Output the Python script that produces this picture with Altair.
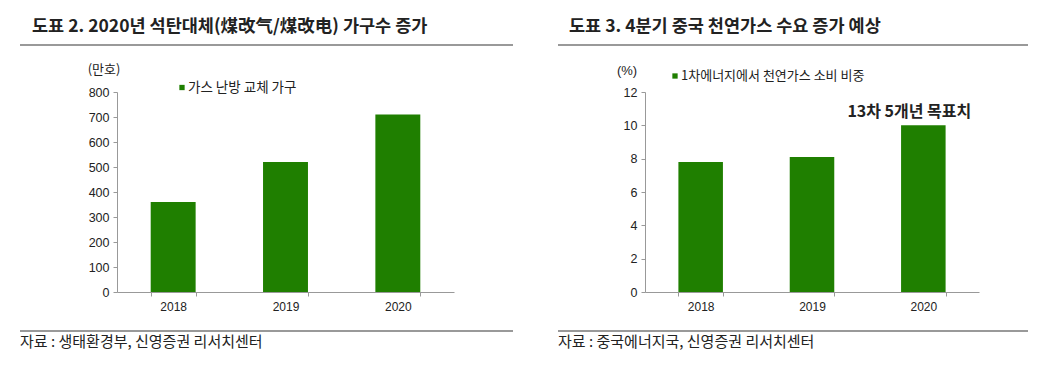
import altair as alt
import pandas as pd

years = ["2018", "2019", "2020"]
households = [360, 520, 710]
gas_share = [7.8, 8.1, 10.0]

left_title = "도표 2. 2020년 석탄대체(煤改气/煤改电) 가구수 증가"
right_title = "도표 3. 4분기 중국 천연가스 수요 증가 예상"
left_source = "자료 : 생태환경부, 신영증권 리서치센터"
right_source = "자료 : 중국에너지국, 신영증권 리서치센터"
left_unit = "(만호)"
right_unit = "(%)"
left_legend = "가스 난방 교체 가구"
right_legend = "1차에너지에서 천연가스 소비 비중"
annotation = ["13차 5개년 목표치"]
annotation_year = ["2020"]
annotation_value = [10]

GREEN = "#1F7F00"
KR = "Noto Sans CJK KR"
LAT = "Liberation Sans"
TXT = "#222222"
GRAY = "#999999"
H = 200


def txt(s, x, y, size, bold=False, font=KR, align="left"):
    return alt.Chart(pd.DataFrame({"t": [s]})).mark_text(
        align=align, baseline="middle", fontSize=size, font=font,
        fontWeight="bold" if bold else "normal", color=TXT
    ).encode(x=alt.value(x), y=alt.value(y), text="t:N")


def hrule(x1, x2, y, w=2):
    return alt.Chart(pd.DataFrame({"t": [0]})).mark_rule(
        color=GRAY, strokeWidth=w
    ).encode(x=alt.value(x1), x2=alt.value(x2), y=alt.value(y))


def panel(values, ymax, ystep, width, unit, unit_x, unit_y, unit_font,
          legend, legend_x, legend_y, title, title_x, source, rule_x1, rule_x2,
          annot=False, legend_size=13):
    df = pd.DataFrame({"year": years, "value": values})
    x = alt.X("year:N", title=None, sort=years,
              scale=alt.Scale(paddingInner=0.6, paddingOuter=0.3),
              axis=alt.Axis(labelAngle=0, tickBand="extent", domainColor=GRAY,
                            tickColor=GRAY, tickSize=4, labelPadding=5,
                            labelFont=LAT, labelFontSize=12, labelColor=TXT))
    y = alt.Y("value:Q", title=None,
              scale=alt.Scale(domain=[0, ymax], nice=False),
              axis=alt.Axis(values=list(range(0, ymax + 1, ystep)), grid=False,
                            labelOverlap=False,
                            domainColor=GRAY, tickColor=GRAY, tickSize=4,
                            labelPadding=4, labelFont=LAT, labelFontSize=12.5,
                            labelColor=TXT))
    bars = alt.Chart(df).mark_bar(color=GREEN).encode(x=x, y=y)
    layers = [bars]
    if annot:
        adf = pd.DataFrame({"year": annotation_year, "value": annotation_value,
                            "t": annotation})
        layers.append(alt.Chart(adf).mark_text(
            fontSize=16, font=KR, fontWeight="bold", color=TXT, dx=-14, dy=-13,
            baseline="middle", align="center"
        ).encode(x=x, y=y, text="t:N"))
    sq = alt.Chart(pd.DataFrame({"t": [0]})).mark_square(
        color=GREEN, size=28, opacity=1
    ).encode(x=alt.value(legend_x), y=alt.value(legend_y))
    layers += [
        hrule(rule_x1, rule_x2, -47),
        txt(title, title_x, -65, 17.5, bold=True),
        txt(unit, unit_x, unit_y, 13, font=unit_font, align="center"),
        sq,
        txt(legend, legend_x + 6, legend_y, legend_size),
        hrule(rule_x1, rule_x2, 239),
        txt(source, rule_x1, 250, 15),
    ]
    return alt.layer(*layers).properties(width=width, height=H)


left = panel(households, 800, 100, 337, left_unit, -13, -22, KR,
             left_legend, 65, -4.5, left_title, -85, left_source, -97, 396,
             legend_size=13.5)
right = panel(gas_share, 12, 2, 334, right_unit, -18, -21.5, LAT,
              right_legend, 30, -16, right_title, -76, right_source, -87, 383,
              annot=True, legend_size=13)

chart = alt.hconcat(left, right, spacing=43).configure_view(
    stroke=None
).properties(
    padding={"left": 11, "top": 10, "right": 5, "bottom": 5},
    background="white",
)

chart.save("out.html", embed_options={"renderer": "svg", "actions": False})
